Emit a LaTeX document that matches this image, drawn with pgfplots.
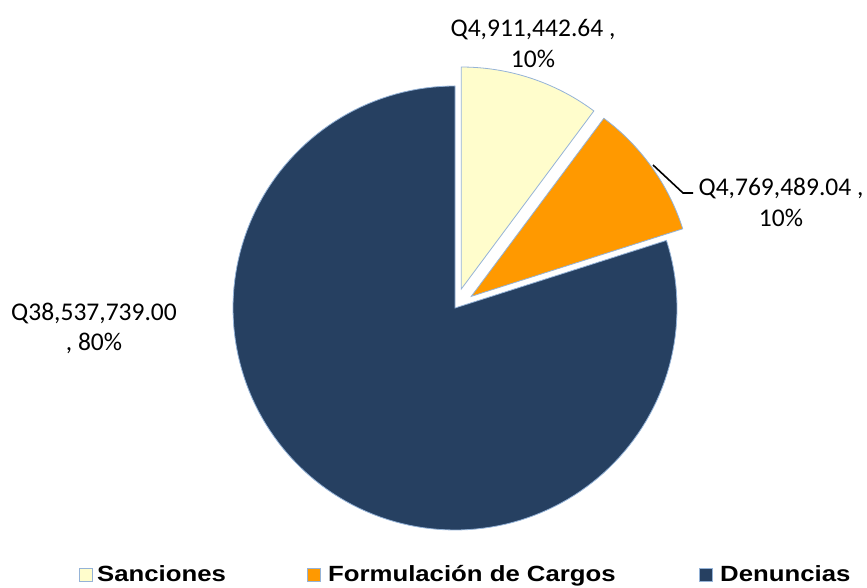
\documentclass[border=0pt]{standalone}
\usepackage{pgfplots}
\pgfplotsset{compat=1.18}
\usepackage{fontspec}
\setmainfont{Carlito}
\newfontfamily\lblfont{Carlito}
\newfontfamily\legfont{Liberation Sans}[FakeStretch=1.17]
\definecolor{cS}{HTML}{FFFDCC}
\definecolor{cF}{HTML}{FF9900}
\definecolor{cD}{HTML}{264061}
\definecolor{edge}{HTML}{95B3D7}
% values (millions of Q)
\def\vS{4.91144264}
\def\vF{4.76948904}
\def\vD{38.537739}
\begin{document}
\begin{tikzpicture}
\pgfmathsetmacro\T{\vS+\vF+\vD}
\pgfmathsetmacro\aS{360*\vS/\T}
\pgfmathsetmacro\aF{360*\vF/\T}
\pgfmathsetmacro\sB{90-\aS}
\pgfmathsetmacro\fB{\sB-\aF}
\def\cx{455}\def\cy{280}\def\r{222}\def\ex{20}
\pgfmathsetmacro\mS{(90+\sB)/2}
\pgfmathsetmacro\mF{(\sB+\fB)/2}
\pgfmathsetmacro\sx{\cx+\ex*cos(\mS)}
\pgfmathsetmacro\sy{\cy+\ex*sin(\mS)}
\pgfmathsetmacro\fx{\cx+\ex*cos(\mF)}
\pgfmathsetmacro\fy{\cy+\ex*sin(\mF)}
\begin{axis}[x=1pt,y=1pt,xmin=0,xmax=867,ymin=0,ymax=588,hide axis,clip=false,
  anchor=origin, at={(0,0)}]
\path (axis cs:0,0) rectangle (axis cs:867,588);
% Denuncias
\addplot[fill=cD,draw=edge,line width=0.8pt,domain=-270:\fB,samples=150,variable=\t]
  ({\cx+\r*cos(t)},{\cy+\r*sin(t)}) -- (axis cs:\cx,\cy) -- cycle;
% Sanciones
\addplot[fill=cS,draw=edge,line width=0.8pt,domain=\sB:90,samples=40,variable=\t]
  ({\sx+\r*cos(t)},{\sy+\r*sin(t)}) -- (axis cs:\sx,\sy) -- cycle;
% Formulacion
\addplot[fill=cF,draw=edge,line width=0.8pt,domain=\fB:\sB,samples=40,variable=\t]
  ({\fx+\r*cos(t)},{\fy+\r*sin(t)}) -- (axis cs:\fx,\fy) -- cycle;
% leader line
\addplot[black,line width=1.6pt] coordinates {(653,423) (683,395) (693,395)};
% labels
\node[align=center,font=\lblfont\fontsize{25.5}{31}\selectfont,inner sep=0pt] at (axis cs:533,544) {Q4,911,442.64 ,\\10\%};
\node[align=center,font=\lblfont\fontsize{25.5}{31}\selectfont,inner sep=0pt] at (axis cs:781,386) {Q4,769,489.04 ,\\10\%};
\node[align=center,font=\lblfont\fontsize{25.5}{30}\selectfont,inner sep=0pt] at (axis cs:94,260) {Q38,537,739.00\\, 80\%};
% legend
\filldraw[fill=cS,draw=edge,line width=0.6pt] (axis cs:79,7) rectangle (axis cs:92,20);
\filldraw[fill=cF,draw=edge,line width=0.6pt] (axis cs:307,7) rectangle (axis cs:320,20);
\filldraw[fill=cD,draw=edge,line width=0.6pt] (axis cs:699,7) rectangle (axis cs:712,20);
\node[anchor=base west,inner sep=0pt,font=\legfont\bfseries\fontsize{22}{24}\selectfont] at (axis cs:97,6) {Sanciones};
\node[anchor=base west,inner sep=0pt,font=\legfont\bfseries\fontsize{22}{24}\selectfont] at (axis cs:328,6) {Formulación de Cargos};
\node[anchor=base west,inner sep=0pt,font=\legfont\bfseries\fontsize{22}{24}\selectfont] at (axis cs:720,6) {Denuncias};
\end{axis}
\end{tikzpicture}
\end{document}
